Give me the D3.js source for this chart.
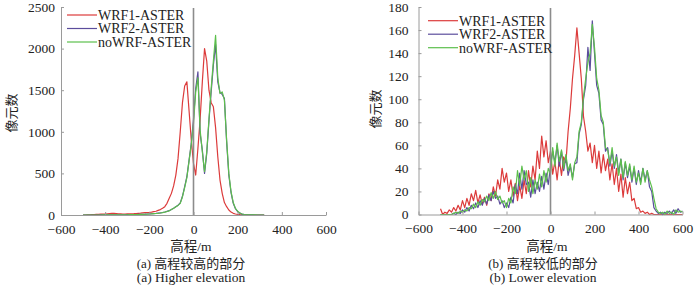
<!DOCTYPE html>
<html lang="zh">
<head>
<meta charset="UTF-8">
<title>elevation difference histograms</title>
<style>
  body { margin: 0; background: #fff; }
  text { font-family: "Liberation Serif", "Times New Roman", "Noto Sans CJK SC", serif; fill: #222; }
</style>
</head>
<body>
<script src="https://cdn.jsdelivr.net/npm/d3@7/dist/d3.min.js"></script>
<script>
// series names
var seriesNames = ["WRF1-ASTER", "WRF2-ASTER", "noWRF-ASTER"];
var seriesColors = ["#dc3b3b", "#5b4d9c", "#5cbf4c"];

var xTicks = [-600, -400, -200, 0, 200, 400, 600];

// (a) higher elevation: bins from -500 to 320 m, every 10 m
var binStartA = -500, binStepA = 10;
var wrf1A = [0,0,2,3,5,5,8,8,10,10,12,15,18,20,20,18,15,15,12,12,
  14,15,15,16,18,20,22,25,28,30,32,35,40,45,55,65,80,100,140,200,
  260,350,480,680,1000,1350,1550,1600,1250,900,
  620,480,800,1150,1600,2000,1850,1500,1350,1300,1050,700,420,260,150,100,60,35,20,12,8,5,3,2,1,0,0,0,0,0,0,0,0];
var wrf2A = [0,0,0,0,0,0,0,0,1,1,1,1,1,2,2,2,2,3,3,3,
  4,4,5,5,6,7,8,9,10,12,13,15,17,19,22,25,30,36,44,52,
  66,82,100,118,145,225,340,460,660,860,
  1150,1520,1720,980,780,500,740,1130,1480,1800,2050,1600,1470,1450,1400,880,480,270,140,75,40,22,11,5,3,2,1,1,0,0,0,0,0];
var nowrfA = [0,0,0,0,0,0,0,0,0,1,1,1,1,1,2,2,2,2,3,3,
  3,4,4,5,5,6,7,8,9,10,12,14,16,18,20,24,28,34,42,50,
  65,80,100,115,140,220,330,450,650,850,
  1100,1480,1650,1020,760,520,760,1150,1520,1850,2160,1650,1460,1480,1380,900,500,280,150,80,45,25,12,6,3,2,1,1,1,0,0,0,0];

// (b) lower elevation: bins from -500 to 600 m, every 10 m
var binStartB = -500, binStepB = 10;
var wrf1B = [5,0,2,1,4,2,6,3,8,4,
  12,6,14,8,18,12,21,10,17,9,
  15,8,18,12,24,16,30,22,40,28,
  36,20,30,16,27,12,25,14,30,18,
  38,24,42,30,55,40,68,50,64,45,
  55,35,46,30,48,34,50,45,72,92,
  118,138,162,140,118,85,72,55,62,45,
  60,40,55,36,52,38,48,30,44,26,
  40,20,35,15,32,18,28,12,14,5,
  6,2,3,1,2,0,1,0,0,0,
  0,0,0,0,0,0,0,0,0,0,
  0];
var wrf2B = [0,0,0,0,0,0,1,0,2,1,
  4,2,6,3,8,5,10,6,12,8,
  14,9,17,12,20,14,16,9,12,6,
  10,6,15,10,26,18,36,22,38,26,
  28,15,30,18,28,20,33,22,36,26,
  42,55,45,60,42,55,38,50,34,42,
  32,44,45,70,78,100,112,145,125,168,
  140,112,105,82,78,55,58,42,55,40,
  52,36,48,30,45,32,42,28,40,26,
  38,28,40,30,38,24,20,6,3,1,
  2,0,2,1,3,1,4,1,5,2,
  3];
var nowrfB = [0,0,0,0,0,0,1,2,1,3,
  2,4,3,6,5,9,6,11,8,13,
  11,16,12,19,14,20,13,16,10,12,
  6,14,10,24,18,38,25,42,30,38,
  20,32,18,30,22,35,24,38,28,40,
  35,58,42,62,46,56,40,52,38,44,
  30,45,50,72,80,102,118,132,140,165,
  145,118,108,86,80,58,56,44,58,42,
  50,34,48,32,46,34,44,30,42,28,
  36,26,40,28,38,30,24,14,5,2,
  1,2,0,3,1,2,0,4,2,3,
  2];

var width = 700, height = 285;
var svg = d3.select("body").append("svg")
  .attr("width", width).attr("height", height);

function drawPanel(cfg) {
  var x = d3.scaleLinear().domain([-600, 600]).range([cfg.left, cfg.right]);
  var y = d3.scaleLinear().domain([0, cfg.yMax]).range([cfg.bottom, cfg.top]);
  var g = svg.append("g");

  var line = d3.line()
    .x(function(d) { return x(d[0]); })
    .y(function(d) { return y(d[1]); });

  cfg.series.forEach(function(vals, k) {
    var pts = vals.map(function(v, i) { return [cfg.binStart + i * cfg.binStep, v]; });
    g.append("path")
      .datum(pts)
      .attr("fill", "none")
      .attr("stroke", seriesColors[k])
      .attr("stroke-width", 1.2)
      .attr("stroke-linejoin", "round")
      .attr("d", line);
  });

  // zero line
  g.append("line")
    .attr("x1", x(0)).attr("x2", x(0))
    .attr("y1", cfg.top + 1).attr("y2", cfg.bottom)
    .attr("stroke", "#8c8c8c").attr("stroke-width", 1.6);

  var xAxis = g.append("g")
    .attr("transform", "translate(0," + cfg.bottom + ")")
    .call(d3.axisBottom(x).tickValues(xTicks).tickSizeInner(-3).tickSizeOuter(0).tickPadding(9));
  var yAxis = g.append("g")
    .attr("transform", "translate(" + cfg.left + ",0)")
    .call(d3.axisLeft(y).tickValues(cfg.yTicks).tickFormat(d3.format("d"))
      .tickSizeInner(-3).tickSizeOuter(0).tickPadding(cfg.yPad));
  [xAxis, yAxis].forEach(function(a) {
    a.attr("font-family", null);
    a.select(".domain").attr("stroke", "#9a9a9a");
    a.selectAll(".tick line").attr("stroke", "#9a9a9a");
    a.selectAll("text").attr("font-size", 13.5).attr("fill", "#222");
  });

  // legend
  seriesNames.forEach(function(name, k) {
    var ly = cfg.legY + k * cfg.legGap;
    g.append("line")
      .attr("x1", cfg.legX).attr("x2", cfg.legX + 30)
      .attr("y1", ly).attr("y2", ly)
      .attr("stroke", seriesColors[k]).attr("stroke-width", 1.2);
    g.append("text")
      .attr("x", cfg.legX + 31).attr("y", ly)
      .attr("dy", "0.35em").attr("font-size", 14)
      .text(name);
  });

  // titles
  g.append("text")
    .attr("transform", "translate(" + cfg.yTitleX + "," + cfg.yTitleY + ") rotate(-90)")
    .attr("text-anchor", "middle").attr("dy", "0.35em")
    .attr("font-size", 13).text("像元数");
  g.append("text")
    .attr("x", cfg.xTitleX).attr("y", 246).attr("dy", "0.35em")
    .attr("text-anchor", "middle").attr("font-size", 13.5).text("高程/m");
  g.append("text")
    .attr("x", cfg.capX).attr("y", 263).attr("dy", "0.35em")
    .attr("text-anchor", "middle").attr("font-size", 13).text(cfg.cap1);
  g.append("text")
    .attr("x", cfg.capX).attr("y", 277).attr("dy", "0.35em")
    .attr("text-anchor", "middle").attr("font-size", 13.5).text(cfg.cap2);
}

drawPanel({
  left: 61, right: 326, top: 7, bottom: 215, yMax: 2500,
  yTicks: [0, 500, 1000, 1500, 2000, 2500], yPad: 6,
  binStart: binStartA, binStep: binStepA,
  series: [wrf1A, wrf2A, nowrfA],
  legX: 67, legY: 15, legGap: 13.5,
  yTitleX: 11, yTitleY: 113, xTitleX: 191, capX: 191,
  cap1: "(a) 高程较高的部分", cap2: "(a) Higher elevation"
});

drawPanel({
  left: 418.5, right: 682.5, top: 7, bottom: 214.5, yMax: 180,
  yTicks: [0, 20, 40, 60, 80, 100, 120, 140, 160, 180], yPad: 10,
  binStart: binStartB, binStep: binStepB,
  series: [wrf1B, wrf2B, nowrfB],
  legX: 428, legY: 20.7, legGap: 13.5,
  yTitleX: 375, yTitleY: 109, xTitleX: 547, capX: 543,
  cap1: "(b) 高程较低的部分", cap2: "(b) Lower elevation"
});
</script>
</body>
</html>
